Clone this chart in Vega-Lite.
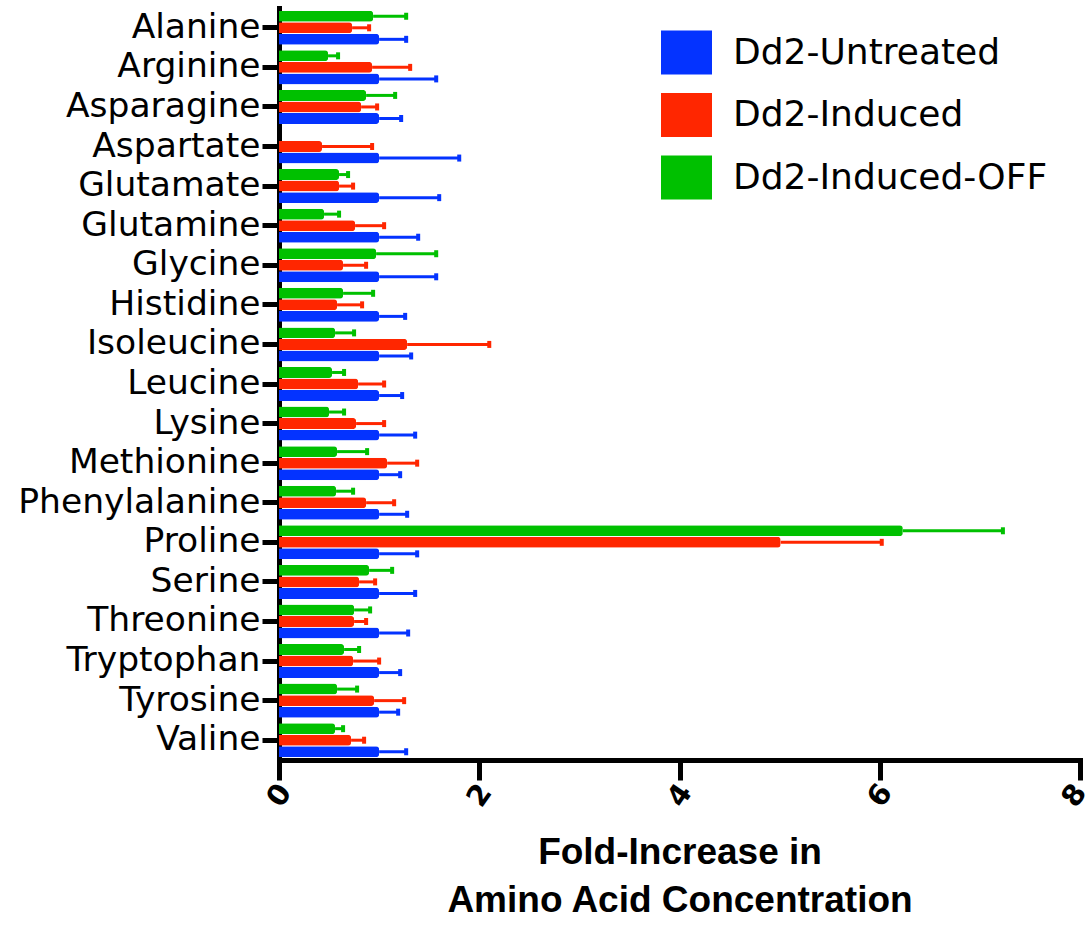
{
  "$schema": "https://vega.github.io/schema/vega-lite/v6.json",
  "width": 801,
  "height": 752,
  "autosize": {"type": "none"},
  "padding": {"left": 279, "top": 8, "right": 10, "bottom": 166},
  "background": "white",
  "config": {"view": {"stroke": null}},
  "data": {"values": [
    {"aa": "Alanine", "g": "Dd2-Untreated", "v": 1.0, "e": 1.27},
    {"aa": "Alanine", "g": "Dd2-Induced", "v": 0.73, "e": 0.9},
    {"aa": "Alanine", "g": "Dd2-Induced-OFF", "v": 0.94, "e": 1.27},
    {"aa": "Arginine", "g": "Dd2-Untreated", "v": 1.0, "e": 1.57},
    {"aa": "Arginine", "g": "Dd2-Induced", "v": 0.93, "e": 1.31},
    {"aa": "Arginine", "g": "Dd2-Induced-OFF", "v": 0.49, "e": 0.59},
    {"aa": "Asparagine", "g": "Dd2-Untreated", "v": 1.0, "e": 1.22},
    {"aa": "Asparagine", "g": "Dd2-Induced", "v": 0.82, "e": 0.98},
    {"aa": "Asparagine", "g": "Dd2-Induced-OFF", "v": 0.87, "e": 1.16},
    {"aa": "Aspartate", "g": "Dd2-Untreated", "v": 1.0, "e": 1.8},
    {"aa": "Aspartate", "g": "Dd2-Induced", "v": 0.43, "e": 0.93},
    {"aa": "Glutamate", "g": "Dd2-Untreated", "v": 1.0, "e": 1.6},
    {"aa": "Glutamate", "g": "Dd2-Induced", "v": 0.6, "e": 0.74},
    {"aa": "Glutamate", "g": "Dd2-Induced-OFF", "v": 0.6, "e": 0.69},
    {"aa": "Glutamine", "g": "Dd2-Untreated", "v": 1.0, "e": 1.39},
    {"aa": "Glutamine", "g": "Dd2-Induced", "v": 0.76, "e": 1.05},
    {"aa": "Glutamine", "g": "Dd2-Induced-OFF", "v": 0.45, "e": 0.6},
    {"aa": "Glycine", "g": "Dd2-Untreated", "v": 1.0, "e": 1.57},
    {"aa": "Glycine", "g": "Dd2-Induced", "v": 0.64, "e": 0.87},
    {"aa": "Glycine", "g": "Dd2-Induced-OFF", "v": 0.97, "e": 1.57},
    {"aa": "Histidine", "g": "Dd2-Untreated", "v": 1.0, "e": 1.26},
    {"aa": "Histidine", "g": "Dd2-Induced", "v": 0.58, "e": 0.83},
    {"aa": "Histidine", "g": "Dd2-Induced-OFF", "v": 0.64, "e": 0.94},
    {"aa": "Isoleucine", "g": "Dd2-Untreated", "v": 1.0, "e": 1.32},
    {"aa": "Isoleucine", "g": "Dd2-Induced", "v": 1.28, "e": 2.1},
    {"aa": "Isoleucine", "g": "Dd2-Induced-OFF", "v": 0.56, "e": 0.75},
    {"aa": "Leucine", "g": "Dd2-Untreated", "v": 1.0, "e": 1.23},
    {"aa": "Leucine", "g": "Dd2-Induced", "v": 0.79, "e": 1.05},
    {"aa": "Leucine", "g": "Dd2-Induced-OFF", "v": 0.53, "e": 0.65},
    {"aa": "Lysine", "g": "Dd2-Untreated", "v": 1.0, "e": 1.36},
    {"aa": "Lysine", "g": "Dd2-Induced", "v": 0.77, "e": 1.05},
    {"aa": "Lysine", "g": "Dd2-Induced-OFF", "v": 0.5, "e": 0.65},
    {"aa": "Methionine", "g": "Dd2-Untreated", "v": 1.0, "e": 1.21},
    {"aa": "Methionine", "g": "Dd2-Induced", "v": 1.08, "e": 1.38},
    {"aa": "Methionine", "g": "Dd2-Induced-OFF", "v": 0.58, "e": 0.88},
    {"aa": "Phenylalanine", "g": "Dd2-Untreated", "v": 1.0, "e": 1.28},
    {"aa": "Phenylalanine", "g": "Dd2-Induced", "v": 0.87, "e": 1.15},
    {"aa": "Phenylalanine", "g": "Dd2-Induced-OFF", "v": 0.57, "e": 0.74},
    {"aa": "Proline", "g": "Dd2-Untreated", "v": 1.0, "e": 1.38},
    {"aa": "Proline", "g": "Dd2-Induced", "v": 5.01, "e": 6.02},
    {"aa": "Proline", "g": "Dd2-Induced-OFF", "v": 6.23, "e": 7.23},
    {"aa": "Serine", "g": "Dd2-Untreated", "v": 1.0, "e": 1.36},
    {"aa": "Serine", "g": "Dd2-Induced", "v": 0.8, "e": 0.96},
    {"aa": "Serine", "g": "Dd2-Induced-OFF", "v": 0.9, "e": 1.13},
    {"aa": "Threonine", "g": "Dd2-Untreated", "v": 1.0, "e": 1.29},
    {"aa": "Threonine", "g": "Dd2-Induced", "v": 0.75, "e": 0.87},
    {"aa": "Threonine", "g": "Dd2-Induced-OFF", "v": 0.75, "e": 0.91},
    {"aa": "Tryptophan", "g": "Dd2-Untreated", "v": 1.0, "e": 1.21},
    {"aa": "Tryptophan", "g": "Dd2-Induced", "v": 0.74, "e": 1.0},
    {"aa": "Tryptophan", "g": "Dd2-Induced-OFF", "v": 0.65, "e": 0.8},
    {"aa": "Tyrosine", "g": "Dd2-Untreated", "v": 1.0, "e": 1.19},
    {"aa": "Tyrosine", "g": "Dd2-Induced", "v": 0.95, "e": 1.25},
    {"aa": "Tyrosine", "g": "Dd2-Induced-OFF", "v": 0.58, "e": 0.78},
    {"aa": "Valine", "g": "Dd2-Untreated", "v": 1.0, "e": 1.27},
    {"aa": "Valine", "g": "Dd2-Induced", "v": 0.72, "e": 0.85},
    {"aa": "Valine", "g": "Dd2-Induced-OFF", "v": 0.56, "e": 0.64}
  ]},
  "encoding": {
    "y": {
      "field": "aa", "type": "nominal", "sort": null,
      "scale": {"paddingInner": 0.14, "paddingOuter": 0.07},
      "axis": {
        "title": null, "domainColor": "black", "domainWidth": 5, "domainCap": "square",
        "tickColor": "black", "tickWidth": 5, "tickSize": 17,
        "labelFont": "DejaVu Sans", "labelFontSize": 34.5, "labelColor": "black",
        "labelPadding": 2, "labelLimit": 400
      }
    },
    "yOffset": {
      "field": "g", "type": "nominal",
      "scale": {"domain": ["Dd2-Induced-OFF", "Dd2-Induced", "Dd2-Untreated"], "paddingInner": 0.05, "paddingOuter": 0}
    },
    "color": {
      "field": "g", "type": "nominal",
      "scale": {"domain": ["Dd2-Untreated", "Dd2-Induced", "Dd2-Induced-OFF"], "range": ["#0433ff", "#ff2600", "#00c000"]},
      "legend": {
        "title": null, "orient": "none", "legendX": 382, "legendY": 19,
        "symbolType": "M-1,-0.863H1V0.863H-1Z", "symbolSize": 2601,
        "symbolStrokeWidth": 0, "symbolOpacity": 1,
        "labelFont": "DejaVu Sans", "labelFontSize": 36, "labelColor": "black",
        "labelOffset": 21, "labelLimit": 500, "rowPadding": 14.5, "padding": 0
      }
    }
  },
  "layer": [
    {
      "mark": {"type": "bar", "cornerRadiusEnd": 3},
      "encoding": {
        "x": {
          "field": "v", "type": "quantitative",
          "scale": {"domain": [0, 8], "nice": false},
          "axis": {
            "values": [0, 2, 4, 6, 8], "format": "d", "grid": false,
            "title": ["Fold-Increase in", "Amino Acid Concentration"],
            "titleFont": "Liberation Sans", "titleFontSize": 37, "titleFontWeight": "bold",
            "titleColor": "black", "titleLineHeight": 48, "titlePadding": 23,
            "domainColor": "black", "domainWidth": 5, "domainCap": "square",
            "tickColor": "black", "tickWidth": 5, "tickSize": 20,
            "labelFont": "DejaVu Sans", "labelFontWeight": "bold", "labelFontSize": 29,
            "labelColor": "black", "labelAngle": -55, "labelAlign": "center",
            "labelBaseline": "middle", "labelPadding": 15, "labelOverlap": false,
            "labelOffset": {"condition": {"test": "datum.value == 8", "value": -6}, "value": 0}
          }
        }
      }
    },
    {
      "mark": {"type": "rule", "strokeWidth": 3},
      "encoding": {
        "x": {"field": "v", "type": "quantitative"},
        "x2": {"field": "e"}
      }
    },
    {
      "mark": {"type": "tick", "thickness": 4, "size": 7, "opacity": 1},
      "encoding": {
        "x": {"field": "e", "type": "quantitative"}
      }
    }
  ]
}
